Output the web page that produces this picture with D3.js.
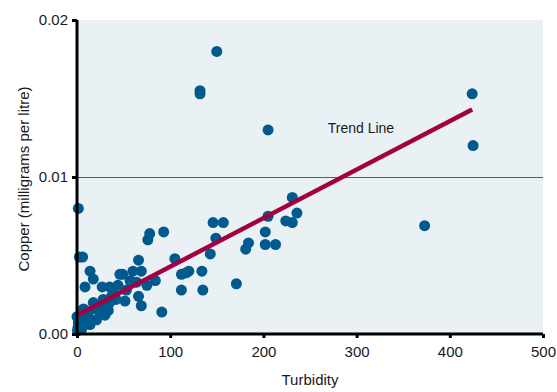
<!DOCTYPE html>
<html>
<head>
<meta charset="utf-8">
<script src="https://cdn.jsdelivr.net/npm/d3@7"></script>
<style>
  body { margin: 0; background: #fff; }
  text { font-family: "Liberation Sans", Arial, sans-serif; fill: #1a1a1a; }
</style>
</head>
<body>
<div id="chart"></div>
<script>
// Data
var turbidity = [
  150, 132, 132, 205, 424, 425, 373,
  231, 205, 236, 224, 231, 146, 157, 202, 149, 184, 181, 202, 213, 143,
  105, 112, 117, 120, 134, 112, 135, 171, 91,
  1.4, 2.5, 6, 78, 76, 93, 14, 17.5, 8.6, 66, 49, 60, 69, 84, 75, 57,
  44, 35, 27, 53, 66, 51.5, 69, 46, 64, 37, 28, 17.5, 7, 32, 30, 21,
  14, 3, 0, 1.4, 5, 12, 8.6, 24.7, 33.6, 17.5, 35, 28, 0.5, 1, 2, 4,
  10, 22, 40, 42
];
var copper = [
  0.0180, 0.0153, 0.0155, 0.0130, 0.0153, 0.0120, 0.0069,
  0.0087, 0.0075, 0.0077, 0.0072, 0.0071, 0.0071, 0.0071, 0.0065, 0.0061, 0.0058, 0.0054, 0.0057, 0.0057, 0.0051,
  0.0048, 0.0038, 0.0039, 0.0040, 0.0040, 0.0028, 0.0028, 0.0032, 0.0014,
  0.0080, 0.0049, 0.0049, 0.0064, 0.0060, 0.0065, 0.0040, 0.0035, 0.0030, 0.0047, 0.0038, 0.0040, 0.0040, 0.0034, 0.0031, 0.0034,
  0.0031, 0.0030, 0.0030, 0.0028, 0.0024, 0.0021, 0.0018, 0.0038, 0.0033, 0.0024, 0.0022, 0.0020, 0.0016, 0.0019, 0.0012, 0.0009,
  0.0006, 0.0005, 0.0011, 0.0007, 0.0003, 0.0011, 0.0014, 0.0014, 0.0015, 0.0016, 0.0020, 0.0013, 0.0002, 0.0004, 0.0009, 0.0012,
  0.0008, 0.0017, 0.0025, 0.0022
];
var trendX = [0, 424];
var trendY = [0.0012, 0.0143];
var xTicks = [0, 100, 200, 300, 400, 500];
var yTicks = [0, 0.01, 0.02];
var yTickLabels = ["0.00", "0.01", "0.02"];

var W = 557, H = 392;
var margin = {top: 20, right: 14, bottom: 58, left: 77};
var w = W - margin.left - margin.right,
    h = H - margin.top - margin.bottom;

var svg = d3.select("#chart").append("svg")
  .attr("width", W).attr("height", H);
var g = svg.append("g")
  .attr("transform", "translate(" + margin.left + "," + margin.top + ")");

var x = d3.scaleLinear().domain([0, 500]).range([0, w]);
var y = d3.scaleLinear().domain([0, 0.02]).range([h, 0]);

// plot background
g.append("rect")
  .attr("width", w).attr("height", h)
  .attr("fill", "#e9f1f4");

// gridline at 0.01
g.append("line")
  .attr("x1", 0).attr("x2", w)
  .attr("y1", y(0.01) + 0.5).attr("y2", y(0.01) + 0.5)
  .attr("stroke", "#246c9b").attr("stroke-width", 1);

// points
var pts = turbidity.map(function(d, i) { return {x: d, y: copper[i]}; });
g.selectAll(".dot")
  .data(pts)
  .enter().append("circle")
  .attr("class", "dot")
  .attr("cx", function(d) { return x(d.x); })
  .attr("cy", function(d) { return y(d.y); })
  .attr("r", 5.5)
  .attr("fill", "#005a8e");

// trend line
g.append("line")
  .attr("x1", x(trendX[0])).attr("y1", y(trendY[0]))
  .attr("x2", x(trendX[1])).attr("y2", y(trendY[1]))
  .attr("stroke", "#a3003f").attr("stroke-width", 4.5);

g.append("text")
  .attr("x", x(269)).attr("y", y(0.0128))
  .style("font-size", "14px")
  .text("Trend Line");

// axes
var xAxis = g.append("g")
  .attr("transform", "translate(0," + h + ")")
  .call(d3.axisBottom(x).tickValues(xTicks).tickSize(4).tickPadding(8).tickFormat(d3.format("d")));
var yAxis = g.append("g")
  .call(d3.axisLeft(y).tickValues(yTicks).tickSize(5).tickPadding(4)
    .tickFormat(function(d, i) { return yTickLabels[i]; }));

[xAxis, yAxis].forEach(function(a) {
  a.select(".domain").attr("stroke", "#000").attr("stroke-width", 3);
  a.selectAll(".tick line").attr("stroke", "#000").attr("stroke-width", 3);
  a.selectAll(".tick text")
    .style("font-size", "15px")
    .style("font-family", "'Liberation Sans', Arial, sans-serif")
    .attr("fill", "#1a1a1a");
});
xAxis.select(".domain").attr("d", "M0,0H" + w);
yAxis.select(".domain").attr("d", "M0,0V" + h);

// axis titles
svg.append("text")
  .attr("x", margin.left + w / 2)
  .attr("y", 385)
  .attr("text-anchor", "middle")
  .style("font-size", "15px")
  .text("Turbidity");

svg.append("text")
  .attr("transform", "translate(29," + (margin.top + h / 2 + 2) + ") rotate(-90)")
  .attr("text-anchor", "middle")
  .style("font-size", "15px")
  .text("Copper (milligrams per litre)");
</script>
</body>
</html>
